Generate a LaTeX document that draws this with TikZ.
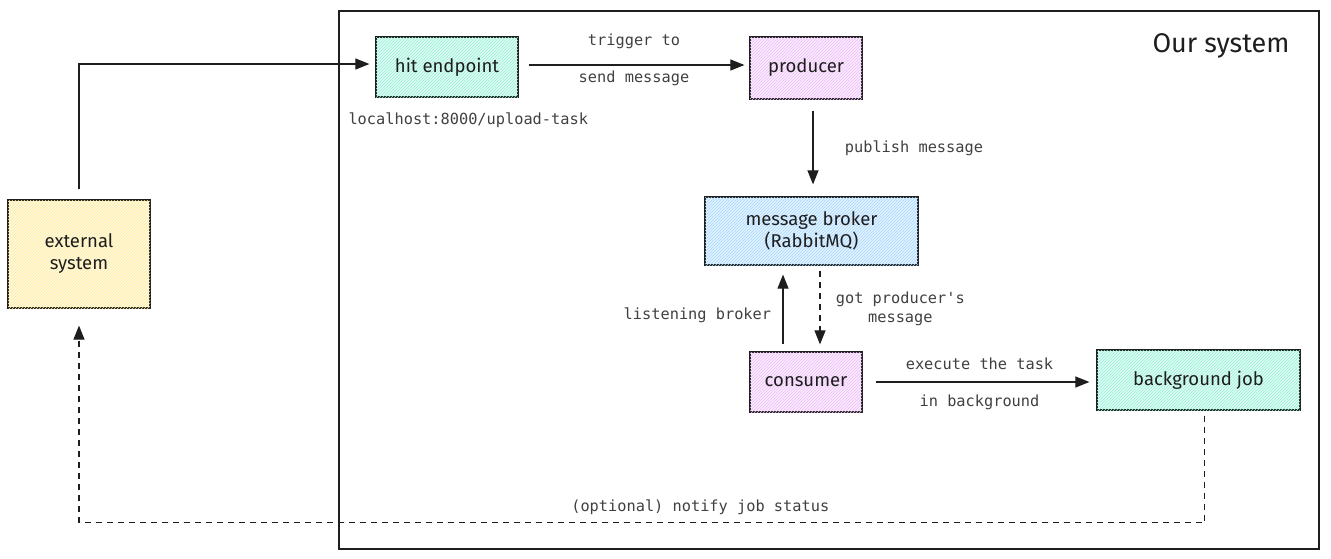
\documentclass[tikz,border=0pt]{standalone}
\usepackage{fontspec}
\setmainfont{Fira Sans}
\setmonofont{DejaVu Sans Mono}
\usetikzlibrary{positioning, arrows.meta, patterns}

\definecolor{ink}{HTML}{1E1E1E}
\definecolor{mint}{HTML}{96F2D7}
\definecolor{lilac}{HTML}{EEBEFA}
\definecolor{sky}{HTML}{A5D8FF}
\definecolor{sand}{HTML}{FFEC99}

\begin{document}
\begin{tikzpicture}[x=1pt, y=-1pt,
    box/.style={draw=ink, line width=1.2pt, fill=#1!30,
                postaction={pattern=north east lines, pattern color=#1},
                minimum height=60pt, font=\fontsize{18.5}{22}\selectfont,
                align=center, text=ink},
    box/.default=mint,
    lbl/.style={font=\ttfamily\fontsize{15.3}{19}\selectfont, text=ink!85, align=center},
    arrow/.style={-{Triangle[length=14pt, width=11pt]}, line width=1.1pt, draw=ink},
    dasharrow/.style={arrow, dash pattern=on 6pt off 5pt},
]
\useasboundingbox (0,0) rectangle (1331,558);

% system frame
\node[draw=ink, line width=1.5pt, minimum width=980pt, minimum height=538pt,
      inner sep=0pt, anchor=north west] (sys) at (338,10) {};
\node[font=\fontsize{27}{31}\selectfont, text=ink] (title) at (1221,46) {Our system};

% boxes
\node[box, minimum width=142pt] (hit) at (447,67) {hit endpoint};
\node[box=lilac, minimum width=112pt, minimum height=62pt] (prod) at (806,68) {producer};
\node[box=sky, minimum width=213pt, minimum height=68pt] (broker) at (811.5,231)
    {message broker\\(RabbitMQ)};
\node[box=lilac, minimum width=112pt] (cons) at (806,382) {consumer};
\node[box, minimum width=203pt] (bg) at (1198.5,380) {background job};
\node[box=sand, minimum width=142pt, minimum height=108pt] (ext) at (79,254)
    {external\\system};

\node[lbl, anchor=west] (url) at (345,120) {localhost:8000/upload-task};

% connectors
\draw[arrow, shorten <=10pt, shorten >=6pt] (ext.north) |- ([yshift=3pt]hit.west);
\draw[arrow, shorten <=10pt, shorten >=5pt] ([yshift=2pt]hit.east) --
    node[lbl, above=12pt] (trig) {trigger to}
    node[lbl, below=2pt] (send) {send message} ([yshift=2pt]hit.east -| prod.west);
\draw[arrow, shorten <=11pt, shorten >=12pt] ([xshift=7pt]prod.south) --
    node[lbl, right=28pt] (pub) {publish message} ([xshift=7pt]prod.south |- broker.north);
\draw[arrow, shorten <=7pt, shorten >=9pt] ([xshift=-23pt]cons.north) --
    node[lbl, left=8pt, yshift=-7pt] (listen) {listening broker}
    ([xshift=-23pt]cons.north |- broker.south);
\draw[dasharrow, shorten <=5pt, shorten >=7pt] ([xshift=14pt]broker.south -| cons.north) --
    node[lbl, right=12pt] (got) {got producer's\\message} ([xshift=14pt]cons.north);
\draw[arrow, shorten <=13pt, shorten >=7pt] (cons.east) --
    node[lbl, above=8pt] (exec) {execute the task}
    node[lbl, below=9pt] (inbg) {in background} (cons.east -| bg.west);
\draw[dasharrow, shorten <=5pt, shorten >=17pt] ([xshift=6pt]bg.south) -- ++(0,112)
    -| node[lbl, pos=0.224, above=4pt] (notify) {(optional) notify job status} (ext.south);

\end{tikzpicture}
\end{document}
